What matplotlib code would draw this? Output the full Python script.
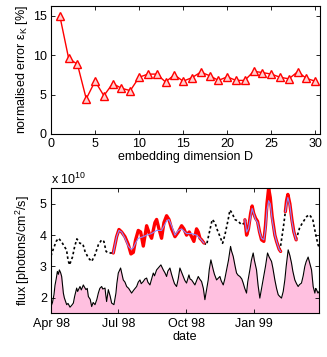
import matplotlib
matplotlib.use("Agg")
import matplotlib.pyplot as plt
import matplotlib.dates as mdates
import numpy as np
import pandas as pd

plt.rcParams['font.family'] = ['Liberation Sans', 'DejaVu Sans']
plt.rcParams['font.size'] = 9
plt.rcParams['mathtext.fontset'] = 'custom'
plt.rcParams['mathtext.rm'] = 'Liberation Sans'
plt.rcParams['mathtext.it'] = 'Liberation Sans'

# ---------------- top panel data ----------------
dims = list(range(1, 31))
errors = [15.0, 9.6, 8.85, 4.45, 6.7, 4.85, 6.4, 5.8, 5.5, 7.2,
          7.6, 7.6, 6.6, 7.5, 6.7, 7.15, 7.85, 7.4, 6.8, 7.25,
          6.8, 6.8, 7.95, 7.8, 7.6, 7.2, 7.0, 7.9, 7.05, 6.7]

# ---------------- bottom panel data (days since 1 Apr 1998, flux / 1e10) -------------
flux_days = [0, 2, 4, 5.4, 7, 8.6, 10, 11.3, 13, 14.4, 16.7, 18, 21.2, 23, 25.7, 28, 30.2, 32,
             34.7, 36, 39.2, 41, 43.7, 45, 47.3, 49, 50.5, 53, 55.0, 57, 59.5, 62, 64.0, 66,
             68.5, 70, 73.0, 74, 75.2, 77.5, 80, 82.0, 85.1, 87.8, 89, 91.0, 94.1, 96, 97.7,
             100, 102.3, 105, 109.0, 112, 115.8, 118, 120.3, 122, 124.8, 127, 129.3, 131,
             133.8, 136, 138.3, 140, 142.8, 145, 148.6, 151.8, 154, 156.3, 158, 160.8, 163,
             165.3, 167, 169.8, 172, 174.3, 176, 178.8, 181, 183.3, 186.5, 188, 190.1, 192,
             194.6, 197, 199.1, 201, 203.6, 206, 208.1, 210, 212.6, 214, 216.2, 219.4, 221,
             223.9, 226, 228.4, 230, 232.9, 235, 237.4, 240, 242.8, 244, 246.4, 249, 250.9,
             253, 255.4, 258, 259.9, 262, 264.4, 266, 268.9, 271, 273.4, 275, 277.9, 280,
             282.4, 284, 286.9, 290, 292.8, 295, 298.2, 300, 302.7, 305, 307.2, 309, 311.7,
             314, 316.2, 318, 320.7, 323, 325.2, 327, 329.7, 332, 334.2, 336, 338.7, 341,
             343.2, 345, 347.7, 350, 352.3, 354.5, 356.8, 358, 359.0, 361, 362.6]
flux_vals = [1.72, 1.85, 2.1, 2.4, 2.6, 2.84, 2.75, 2.89, 2.8, 2.68, 2.15, 2.0, 1.78, 1.82, 1.70,
             1.76, 1.83, 2.05, 2.31, 2.2, 2.36, 2.25, 2.41, 2.35, 2.26, 2.3, 2.04, 1.95, 1.72,
             1.85, 1.78, 1.95, 2.15, 2.3, 2.36, 2.28, 2.31, 2.1, 1.88, 2.26, 2.05, 1.83, 1.78,
             2.15, 2.45, 2.79, 2.95, 2.75, 2.57, 2.5, 2.36, 2.3, 2.15, 2.25, 2.36, 2.5, 2.57,
             2.45, 2.52, 2.6, 2.63, 2.5, 2.41, 2.6, 2.79, 2.7, 2.89, 2.95, 3.05, 2.89, 2.8,
             2.68, 2.85, 2.95, 2.75, 2.57, 2.45, 2.36, 2.6, 2.95, 2.85, 2.68, 2.55, 2.47,
             2.73, 2.6, 2.57, 2.5, 2.41, 2.55, 2.68, 2.6, 2.52, 2.3, 1.94, 2.2, 2.57, 2.9,
             3.21, 2.89, 2.75, 2.57, 2.62, 2.68, 2.55, 2.41, 2.6, 2.89, 3.2, 3.64, 3.5, 3.32,
             3.0, 2.79, 2.72, 2.68, 2.6, 2.47, 2.3, 2.15, 2.5, 2.89, 3.2, 3.43, 3.2, 2.89,
             2.4, 1.99, 2.2, 2.57, 3.0, 3.43, 3.3, 3.16, 2.95, 2.57, 2.3, 2.10, 2.05, 1.99,
             2.2, 2.57, 3.0, 3.53, 3.35, 3.11, 2.85, 2.57, 2.45, 2.36, 2.42, 2.47, 2.7, 3.0,
             3.15, 3.30, 3.1, 2.89, 2.36, 2.15, 2.3, 2.26, 2.15, 2.20]

dot_days = [0, 3, 7, 10, 14, 19, 21, 23, 25, 29, 32, 35, 39, 43, 46, 50.5, 55, 59.5, 64, 68.5,
            71.5, 74.5, 77.5, 82, 84.2, np.nan,
            206.8, 210.4, 214.9, 218, 221.6, 224.8, 228.4, 232, 235.1, 239.6, 241.9, 245,
            248.6, 253.2, 257.7, 261.3, 263.5, np.nan,
            309.5, 312, 314.5, 316.9, np.nan,
            331.5, 336, 339, 342.8, 346, 349.6, 354, 356, 358.5, 361, 363]
dot_vals = [3.34, 3.55, 3.8, 3.9, 3.8, 3.6, 3.53, 3.21, 3.05, 3.3, 3.64, 3.88, 3.74, 3.72, 3.48,
            3.27, 3.16, 3.37, 3.69, 3.85, 3.8, 3.48, 3.43, 3.43, 3.43, np.nan,
            3.75, 3.69, 4.17, 4.5, 4.4, 4.17, 3.96, 3.74, 4.0, 4.5, 4.8, 4.7, 4.5, 4.44,
            4.33, 4.38, 4.49, np.nan,
            3.5, 3.9, 4.3, 4.75, np.nan,
            3.85, 4.22, 4.35, 4.49, 4.6, 4.65, 4.5, 4.25, 3.96, 3.7, 3.59]

pred_days = [84.2, 88.7, 91.9, 95.5, 100, 104.5, 108.1, 111.3, 114.4, 118, 121.2, 124.8,
             129.3, 132.9, 136, 140.5, 142.8, 146, 149.5, 152.7, 156.3, 159.5, 163.1,
             167.6, 172.1, 176.6, 179.7, 183.3, 186.9, 190.1, 193.2, 196.8, 199.1, 201.4,
             203.6, 206.8, np.nan,
             262.2, 264.5, 267, 270, 272, 274, 276.6, 279.3, 282, 284.7, 287.8, 290, 292,
             294.3, 296.5, 299, 302.7, 305, 308.5, 310.5, np.nan,
             316.9, 318.5, 320.3, 323, 325.7, 328.4, 331.5]
pred_vals = [3.43, 3.95, 4.18, 4.1, 3.95, 3.7, 3.4, 3.45, 3.85, 4.15, 4.1, 3.65,
             4.3, 4.05, 3.9, 4.4, 4.5, 4.2, 3.9, 4.4, 4.62, 4.5, 4.2,
             3.95, 4.1, 4.3, 4.2, 4.0, 4.1, 3.95, 3.8, 4.2, 4.1, 3.9,
             3.85, 3.75, np.nan,
             4.49, 4.0, 4.2, 4.7, 4.93, 4.7, 4.54, 4.44, 4.1, 3.85, 3.8, 4.3, 5.0,
             5.5, 5.2, 4.6, 4.0, 3.8, 3.55, 3.48, np.nan,
             4.75, 5.1, 5.3, 5.0, 4.5, 4.1, 3.85]

obs_days = [84.2, 88.7, 91.9, 95.5, 100, 104.5, 108.1, 111.3, 114.4, 118, 124.8, 129.3,
            136, 142.8, 149.5, 156.3, 159.5, 163.1, 167.6, 172.1, 176.6, 183.3, 190.1,
            196.8, 201.4, 206.8, np.nan,
            262.2, 264.5, 267, 270, 272, 274, 276.6, 279.3, 282, 284.7, 287.8, 290, 292,
            294.3, 296.5, 299, 302.7, 305, 308.5, 310.5, np.nan,
            316.9, 318.5, 320.3, 323, 325.7, 328.4, 331.5]
obs_vals = [3.43, 3.95, 4.15, 4.1, 3.9, 3.65, 3.55, 3.6, 3.75, 3.9, 3.95, 4.0,
            4.05, 4.15, 4.15, 4.45, 4.5, 4.3, 4.0, 4.15, 4.2, 4.05, 4.05,
            4.0, 3.9, 3.75, np.nan,
            4.49, 4.1, 4.2, 4.6, 4.85, 4.7, 4.5, 4.4, 4.1, 3.9, 3.85, 4.2, 4.8,
            5.1, 5.0, 4.5, 4.0, 3.8, 3.55, 3.48, np.nan,
            4.75, 5.0, 5.2, 4.95, 4.45, 4.1, 3.85]

month_ticks = ['1998-04-01', '1998-07-01', '1998-10-01', '1999-01-01']
month_labels = ['Apr 98', 'Jul 98', 'Oct 98', 'Jan 99']

start_num = mdates.date2num(pd.Timestamp('1998-04-01'))
def to_dates(days):
    return start_num + np.asarray(days, dtype=float)

fig = plt.figure(figsize=(3.27, 3.57), dpi=100)

# ---- top axes ----
ax1 = fig.add_axes([0.156, 0.625, 0.823, 0.358])
ax1.plot(dims, errors, color='red', lw=1.0, marker='^', ms=6, mfc='#ffd0d0', mec='red', mew=1.0)
ax1.set_xlim(0, 30.55)
ax1.set_ylim(0, 16.25)
ax1.set_xticks([0, 5, 10, 15, 20, 25, 30])
ax1.set_yticks([0, 5, 10, 15])
ax1.set_xlabel('embedding dimension D', labelpad=1)
ax1.set_ylabel('normalised error ε$_\\mathrm{K}$ [%]', labelpad=2)

# ---- bottom axes ----
ax2 = fig.add_axes([0.156, 0.122, 0.820, 0.351])
fd = to_dates(flux_days)
ax2.fill_between(fd, 1.5, flux_vals, color='#ffc0e0', lw=0)
ax2.plot(fd, flux_vals, color='black', lw=0.8)
ax2.plot(to_dates(dot_days), dot_vals, color='black', lw=1.2, ls=(0, (1.5, 1.5)))
ax2.plot(to_dates(pred_days), pred_vals, color='red', lw=2.4, solid_capstyle='round')
ax2.plot(to_dates(obs_days), obs_vals, color='#8a8aff', lw=0.8)
ax2.set_xlim(start_num, start_num + 362.6)
ax2.set_ylim(1.5, 5.5)
ax2.set_yticks([2, 3, 4, 5])
ax2.set_xticks([mdates.date2num(pd.Timestamp(t)) for t in month_ticks])
ax2.set_xticklabels(month_labels)
ax2.set_xlabel('date', labelpad=1)
ax2.set_ylabel('flux [photons/cm$^2$/s]', labelpad=6)
ax2.text(0.0, 1.01, 'x 10$^{10}$', transform=ax2.transAxes, ha='left', va='bottom', fontsize=9)

for ax in (ax1, ax2):
    ax.tick_params(direction='in', top=True, right=True, length=3, width=0.6, labelsize=9, pad=3)
    for s in ax.spines.values():
        s.set_linewidth(0.8)

fig.savefig('out.png', dpi=100)
